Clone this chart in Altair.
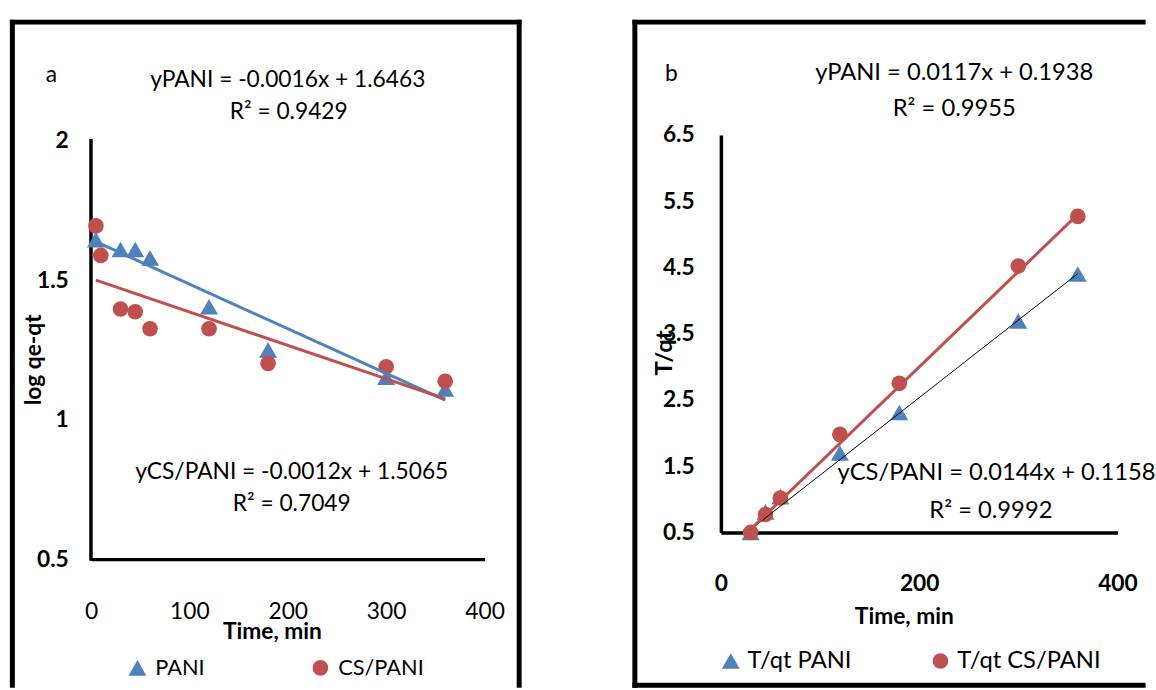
import altair as alt
import pandas as pd

BLUE = "#4F81BD"
RED = "#C0504D"
FONT = "Lato"

# ---------------- Panel a : pseudo-first-order ----------------
a_pani_t = [5, 30, 45, 60, 120, 180, 300, 360]
a_pani_v = [1.645, 1.61, 1.61, 1.58, 1.405, 1.25, 1.152, 1.11]
a_cs_t = [5, 10, 30, 45, 60, 120, 180, 300, 360]
a_cs_v = [1.695, 1.589, 1.397, 1.387, 1.326, 1.326, 1.202, 1.19, 1.138]
a_series = ["PANI", "CS/PANI"]
a_slope = [-0.0016, -0.0012]
a_icpt = [1.6463, 1.5065]
a_eq = ["yPANI = -0.0016x + 1.6463", "R² = 0.9429",
        "yCS/PANI = -0.0012x + 1.5065", "R² = 0.7049"]
a_xticks = [0, 100, 200, 300, 400]
a_yticks = [0.5, 1, 1.5, 2]

# ---------------- Panel b : pseudo-second-order ----------------
b_t = [30, 45, 60, 120, 180, 300, 360]
b_pani_v = [0.5, 0.81, 1.04, 1.7, 2.31, 3.69, 4.4]
b_cs_v = [0.5, 0.77, 1.02, 1.98, 2.75, 4.52, 5.27]
b_series = ["T/qt PANI", "T/qt CS/PANI"]
b_slope = [0.0117, 0.0144]
b_icpt = [0.1938, 0.1158]
b_eq = ["yPANI = 0.0117x + 0.1938", "R² = 0.9955",
        "yCS/PANI = 0.0144x + 0.1158", "R² = 0.9992"]
b_xticks = [0, 200, 400]
b_yticks = [0.5, 1.5, 2.5, 3.5, 4.5, 5.5, 6.5]

MARK_SIZES = [330, 250]  # triangle, circle

# ---------------- tables ----------------
pts_a = pd.DataFrame({
    "t": a_pani_t + a_cs_t,
    "v": a_pani_v + a_cs_v,
    "s": [a_series[0]] * len(a_pani_t) + [a_series[1]] * len(a_cs_t),
})
pts_b = pd.DataFrame({
    "t": b_t + b_t,
    "v": b_pani_v + b_cs_v,
    "s": [b_series[0]] * len(b_t) + [b_series[1]] * len(b_t),
})


def fit_table(ts, slope, icpt):
    t0, t1 = min(ts), max(ts)
    return pd.DataFrame({"t": [t0, t1], "v": [slope * t0 + icpt, slope * t1 + icpt]})


fit_a_pani = fit_table(a_pani_t, a_slope[0], a_icpt[0])
fit_a_cs = fit_table(a_cs_t, a_slope[1], a_icpt[1])
fit_b_pani = fit_table(b_t, b_slope[0], b_icpt[0])
fit_b_cs = fit_table(b_t, b_slope[1], b_icpt[1])

one = pd.DataFrame({"k": [0]})


def txt(s, x, y, size, align="center", weight="normal"):
    return alt.Chart(one).mark_text(
        font=FONT, fontSize=size, fontWeight=weight, color="black",
        align=align, baseline="middle"
    ).encode(x=alt.value(x), y=alt.value(y), text=alt.value(s))


def frame_line(x, y, x2, y2):
    return alt.Chart(one).mark_rule(color="black", strokeWidth=5, strokeCap="square").encode(
        x=alt.value(x), y=alt.value(y), x2=alt.value(x2), y2=alt.value(y2))


# ---------------- panel a ----------------
A_W, A_H = 398, 429
a_ydom = [0.5, 2.02128]

legend_a = alt.Legend(title=None, orient="none", legendX=36, legendY=528,
                      direction="horizontal", columnPadding=106, labelOffset=7,
                      labelFont=FONT, labelFontSize=22, labelColor="black",
                      symbolSize=280, symbolStrokeWidth=0, padding=0, labelLimit=300)

xa = alt.X("t:Q", scale=alt.Scale(domain=[0, 400], nice=False),
           axis=alt.Axis(values=a_xticks, format="d", labelFont=FONT, labelFontSize=23,
                         labelColor="black", labelPadding=53, labelBaseline="middle",
                         labelFlush=False, ticks=False, tickSize=0, grid=False,
                         domainColor="black", domainWidth=3.5,
                         title="Time, min", titleFont=FONT, titleFontSize=23,
                         titleFontWeight="bold", titleColor="black",
                         titleX=183, titleY=73, titleBaseline="middle", titleAlign="center"))
ya = alt.Y("v:Q", scale=alt.Scale(domain=a_ydom, nice=False, zero=False),
           axis=alt.Axis(values=a_yticks, format="~g", labelFont=FONT, labelFontSize=23,
                         labelFontWeight="bold", labelColor="black", labelPadding=23,
                         labelBaseline="middle", labelFlush=False, ticks=False, tickSize=0,
                         grid=False, domain=False,
                         title="log qe-qt", titleFont=FONT, titleFontSize=23,
                         titleFontWeight="bold", titleColor="black",
                         titleX=-58, titleY=227, titleAngle=270,
                         titleBaseline="middle", titleAlign="center"))

points_a = alt.Chart(pts_a).mark_point(filled=True, opacity=1).encode(
    x=xa, y=ya,
    color=alt.Color("s:N", scale=alt.Scale(domain=a_series, range=[BLUE, RED]), legend=legend_a),
    shape=alt.Shape("s:N", scale=alt.Scale(domain=a_series, range=["triangle-up", "circle"]),
                    legend=legend_a),
    size=alt.Size("s:N", scale=alt.Scale(domain=a_series, range=MARK_SIZES), legend=None),
)
yaxis_a = alt.Chart(one).mark_rule(color="black", strokeWidth=3.5, strokeCap="square").encode(
    x=alt.datum(0), y=alt.datum(a_yticks[0]), y2=alt.datum(a_yticks[-1]))
line_a_pani = alt.Chart(fit_a_pani).mark_line(color=BLUE, strokeWidth=3).encode(x="t:Q", y="v:Q")
line_a_cs = alt.Chart(fit_a_cs).mark_line(color=RED, strokeWidth=3).encode(x="t:Q", y="v:Q")

panel_a = alt.layer(
    frame_line(-79.5, -114, -79.5, 556.5),
    frame_line(-79.5, -114, 433, -114),
    frame_line(433, -114, 433, 556.5),
    yaxis_a,
    points_a,
    line_a_pani,
    line_a_cs,
    txt("a", -40, -60, 23),
    txt(a_eq[0], 199, -55, 23),
    txt(a_eq[1], 200, -23, 23),
    txt(a_eq[2], 203, 341, 23),
    txt(a_eq[3], 203, 373, 23),
).properties(width=A_W, height=A_H)

# ---------------- panel b ----------------
B_W, B_H = 401, 402

legend_b = alt.Legend(title=None, orient="none", legendX=-2, legendY=520,
                      direction="horizontal", columnPadding=77, labelOffset=5,
                      labelFont=FONT, labelFontSize=24, labelColor="black",
                      symbolSize=280, symbolStrokeWidth=0, padding=0, labelLimit=300)

xb = alt.X("t:Q", scale=alt.Scale(domain=[0, 400], nice=False),
           axis=alt.Axis(values=b_xticks, format="d", labelFont=FONT, labelFontSize=23,
                         labelFontWeight="bold", labelColor="black", labelPadding=52,
                         labelBaseline="middle", labelFlush=False, ticks=False, tickSize=0,
                         grid=False, domainColor="black", domainWidth=3.5,
                         title="Time, min", titleFont=FONT, titleFontSize=23,
                         titleFontWeight="bold", titleColor="black",
                         titleX=185, titleY=85, titleBaseline="middle", titleAlign="center"))
yb = alt.Y("v:Q", scale=alt.Scale(domain=[0.5, 6.5], nice=False, zero=False),
           axis=alt.Axis(values=b_yticks, format="~g", labelFont=FONT, labelFontSize=23,
                         labelFontWeight="bold", labelColor="black", labelPadding=27,
                         labelBaseline="middle", labelFlush=False, ticks=False, tickSize=0,
                         grid=False, domainColor="black", domainWidth=3.5,
                         title="T/qt", titleFont=FONT, titleFontSize=24,
                         titleFontWeight="bold", titleColor="black",
                         titleX=-57, titleY=220, titleAngle=270,
                         titleBaseline="middle", titleAlign="center"))

points_b = alt.Chart(pts_b).mark_point(filled=True, opacity=1).encode(
    x=xb, y=yb,
    color=alt.Color("s:N", scale=alt.Scale(domain=b_series, range=[BLUE, RED]), legend=legend_b),
    shape=alt.Shape("s:N", scale=alt.Scale(domain=b_series, range=["triangle-up", "circle"]),
                    legend=legend_b),
    size=alt.Size("s:N", scale=alt.Scale(domain=b_series, range=MARK_SIZES), legend=None),
)
line_b_pani = alt.Chart(fit_b_pani).mark_line(color="black", strokeWidth=1).encode(x="t:Q", y="v:Q")
line_b_cs = alt.Chart(fit_b_cs).mark_line(color=RED, strokeWidth=3).encode(x="t:Q", y="v:Q")

panel_b = alt.layer(
    frame_line(-87, -114, -87, 556.5),
    frame_line(-87, -114, 427, -114),
    frame_line(-87, 556.5, 427, 556.5),
    points_b,
    line_b_pani,
    line_b_cs,
    txt("b", -50, -61, 23),
    txt(b_eq[0], 236, -63, 24),
    txt(b_eq[1], 236, -26, 24),
    txt(b_eq[2], 118, 342, 24, align="left"),
    txt(b_eq[3], 273, 380, 24),
).properties(width=B_W, height=B_H)

chart = alt.hconcat(panel_a, panel_b, spacing=239, bounds="flush").resolve_scale(
    color="independent", shape="independent", size="independent",
    x="independent", y="independent"
).resolve_legend(color="independent", shape="independent", size="independent").properties(
    padding={"left": 8, "top": 14.5, "right": 0, "bottom": 0}
).configure(background="white").configure_view(stroke=None)

chart.save("out.html", embed_options={"renderer": "svg", "actions": False})
